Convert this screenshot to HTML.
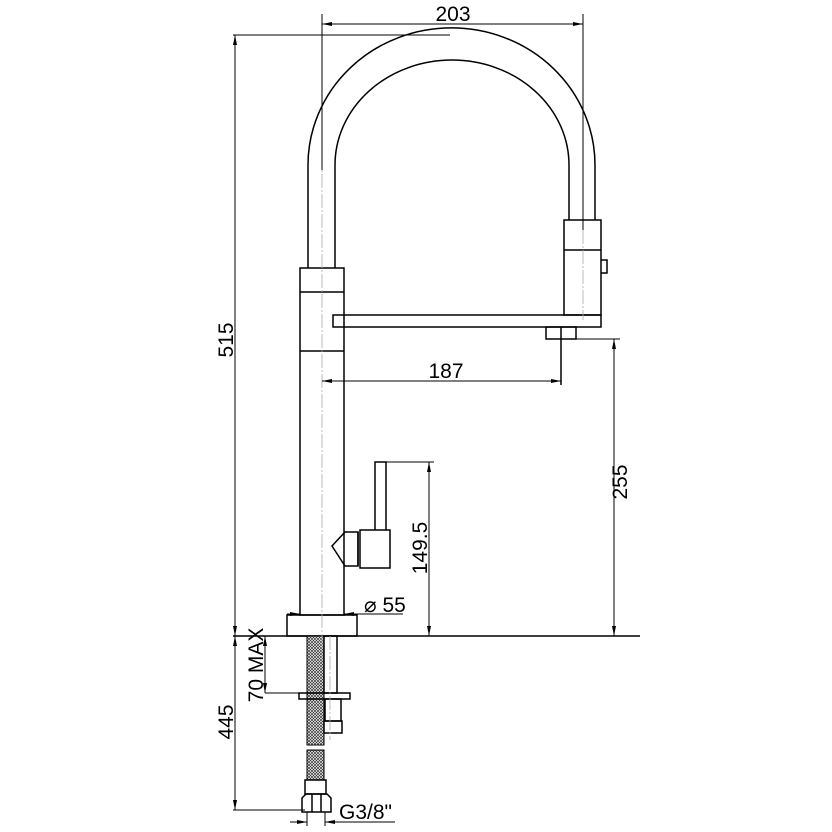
<!DOCTYPE html>
<html><head><meta charset="utf-8"><style>
html,body{margin:0;padding:0;background:#fff;}
svg{display:block}
text{font-family:"Liberation Sans Narrow","Liberation Sans",sans-serif;fill:#000;}
</style></head><body>
<svg width="832" height="832" viewBox="0 0 832 832" xmlns="http://www.w3.org/2000/svg">
<defs>
<pattern id="mesh" width="3" height="3" patternUnits="userSpaceOnUse">
<rect width="3" height="3" fill="#fff"/>
<path d="M0 0L3 3M3 0L0 3" stroke="#333" stroke-width="0.7"/>
</pattern>
<marker id="a" viewBox="0 0 10 4" refX="10" refY="2" markerWidth="10" markerHeight="4" orient="auto-start-reverse" markerUnits="userSpaceOnUse">
<path d="M0 0L10 2L0 4z" fill="#000"/>
</marker>
</defs>
<g fill="none" stroke="#000" stroke-width="1.5">
<path d="M308 268 V165 A136 130 0 0 1 595 165 V220"/>
<path d="M335 268 V165 A117 105 0 0 1 569 165 V220"/>
<rect x="300" y="268" width="44" height="347"/>
<line x1="300" y1="292" x2="344" y2="292"/>
<line x1="300" y1="351" x2="344" y2="351"/>
<rect x="564" y="220" width="37" height="95"/>
<line x1="564" y1="250" x2="601" y2="250"/>
<path d="M601 260 H607 V273 H601"/>
<rect x="333" y="315" width="268" height="12"/>
<rect x="546" y="327" width="30" height="12"/>
<line x1="561" y1="327" x2="561" y2="385"/>
<path d="M375 530 V462 H386 V530"/>
<rect x="360" y="530" width="30" height="38"/>
<path d="M358 532 H345 L332 546 L345 566 H358 Z"/>
<line x1="358" y1="532" x2="358" y2="566"/>
<rect x="287" y="615" width="70" height="21"/>
<line x1="233" y1="636" x2="640" y2="636"/>
<rect x="307" y="636" width="17" height="109" fill="url(#mesh)" stroke-width="1"/>
<rect x="307" y="750" width="17" height="30" fill="url(#mesh)" stroke-width="1"/>
<rect x="324" y="636" width="13" height="57"/>
<rect x="299" y="693" width="51" height="6"/>
<rect x="325" y="699" width="16" height="22"/>
<rect x="324" y="721" width="18" height="12"/>
<rect x="305" y="780" width="21" height="14"/>
<path d="M302 798 L306 794 H327 L331 798 V812 H302 Z"/>
<line x1="312" y1="794" x2="312" y2="812"/>
<line x1="321" y1="794" x2="321" y2="812"/>
</g>
<g stroke="#aaa" stroke-width="0.8" stroke-dasharray="14 2 2 2">
<line x1="322" y1="14" x2="322" y2="660"/>
<line x1="583" y1="230" x2="583" y2="320"/>
<line x1="330" y1="636" x2="330" y2="740"/>
</g>
<g stroke="#000" stroke-width="1" fill="none">
<line x1="233" y1="35" x2="450" y2="35"/>
<line x1="322" y1="24" x2="583" y2="24" marker-start="url(#a)" marker-end="url(#a)"/>
<line x1="322" y1="14" x2="322" y2="170"/>
<line x1="583" y1="14" x2="583" y2="230"/>
<line x1="322" y1="381" x2="561" y2="381" marker-start="url(#a)" marker-end="url(#a)"/>
<line x1="235" y1="35" x2="235" y2="636" marker-start="url(#a)" marker-end="url(#a)"/>
<line x1="576" y1="339" x2="620" y2="339"/>
<line x1="614" y1="339" x2="614" y2="636" marker-start="url(#a)" marker-end="url(#a)"/>
<line x1="386" y1="462" x2="434" y2="462"/>
<line x1="429" y1="462" x2="429" y2="636" marker-start="url(#a)" marker-end="url(#a)"/>
<line x1="287" y1="614" x2="300" y2="614" marker-end="url(#a)"/>
<line x1="357" y1="614" x2="344" y2="614" marker-end="url(#a)"/>
<line x1="357" y1="614" x2="403" y2="614"/>
<line x1="265" y1="636" x2="265" y2="693" marker-start="url(#a)" marker-end="url(#a)"/>
<line x1="265" y1="693" x2="300" y2="693"/>
<line x1="235" y1="636" x2="235" y2="810" marker-start="url(#a)" marker-end="url(#a)"/>
<line x1="233" y1="810" x2="305" y2="810"/>
<line x1="290" y1="822" x2="307" y2="822" marker-end="url(#a)"/>
<line x1="342" y1="822" x2="325" y2="822" marker-end="url(#a)"/>
<line x1="325" y1="822" x2="395" y2="822"/>
<line x1="307" y1="812" x2="307" y2="826"/>
<line x1="325" y1="812" x2="325" y2="826"/>
</g>
<g font-size="21">
<text x="453" y="21" text-anchor="middle">203</text>
<text x="446" y="378" text-anchor="middle">187</text>
<text x="364" y="612">⌀ 55</text>
<text x="339" y="819">G3/8"</text>
<text transform="translate(233 340) rotate(-90)" text-anchor="middle">515</text>
<text transform="translate(627 482) rotate(-90)" text-anchor="middle">255</text>
<text transform="translate(427 548) rotate(-90)" text-anchor="middle">149.5</text>
<text transform="translate(263 665) rotate(-90)" text-anchor="middle">70 MAX</text>
<text transform="translate(233 722) rotate(-90)" text-anchor="middle">445</text>
</g>
</svg>
</body></html>
